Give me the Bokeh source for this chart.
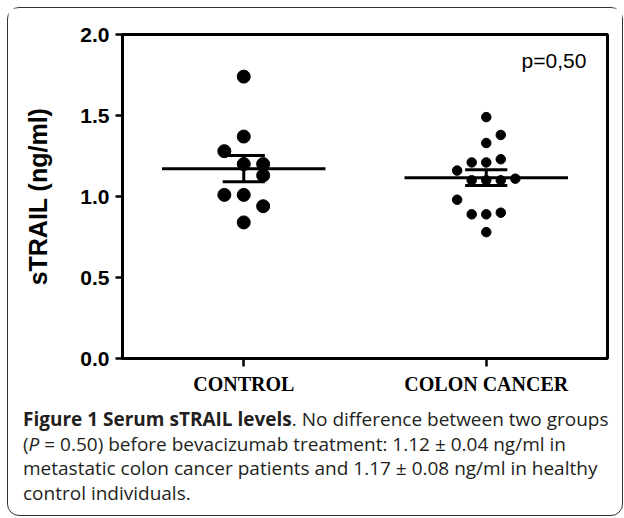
import numpy as np
from bokeh.plotting import figure
from bokeh.models import Range1d, FixedTicker, Label, Div, NumeralTickFormatter
from bokeh.layouts import column
from bokeh.embed import file_html
from bokeh.resources import INLINE

# ---- data ----
groups = ["CONTROL", "COLON CANCER"]
control_values = [1.74, 1.37, 1.28, 1.20, 1.20, 1.13, 1.01, 1.01, 0.94, 0.84]
control_cols = [0, 0, -1, 0, 1, 1, -1, 0, 1, 0]
colon_values = [1.49, 1.38, 1.33, 1.21, 1.21, 1.23, 1.16, 1.10, 1.10, 1.10,
                1.11, 0.98, 0.89, 0.89, 0.90, 0.78]
colon_cols = [0, 1, 0, -1, 0, 1, -2, -1, 0, 1, 2, -2, -1, 0, 1, 0]
y_ticks = [0.0, 0.5, 1.0, 1.5, 2.0]
p_text = "p=0,50"

# ---- figure ----
p = figure(width=614, height=390, x_range=Range1d(0, 2), y_range=Range1d(0, 2),
           output_backend="svg", toolbar_location=None,
           min_border_left=114, min_border_right=15, min_border_top=26, min_border_bottom=40)
p.grid.visible = False
p.outline_line_color = "black"
p.outline_line_width = 3
p.background_fill_color = "white"
p.border_fill_color = "white"

series = [(control_values, control_cols, 0.080, 13),
          (colon_values, colon_cols, 0.060, 9.5)]
half_mean = 0.337
half_cap = 0.087
for gi, (vals, cols, step, sz) in enumerate(series):
    center = gi + 0.5
    vals = np.array(vals)
    xs = center + np.array(cols) * step
    p.scatter(xs, vals, size=sz, color="black")
    m = vals.mean()
    sem = vals.std(ddof=1) / np.sqrt(len(vals))
    p.segment([center - half_mean], [m], [center + half_mean], [m], line_width=3, color="black")
    p.segment([center - half_cap, center - half_cap], [m - sem, m + sem],
              [center + half_cap, center + half_cap], [m - sem, m + sem], line_width=3, color="black")
    p.segment([center], [m - sem], [center], [m + sem], line_width=3, color="black")

# y axis
ya = p.yaxis[0]
ya.ticker = FixedTicker(ticks=y_ticks)
ya.formatter = NumeralTickFormatter(format="0.0")
ya.minor_tick_line_color = None
ya.major_tick_out = 7
ya.major_tick_in = 0
ya.major_tick_line_width = 2.5
ya.axis_line_width = 3
ya.major_label_text_font = "Liberation Sans"
ya.major_label_text_font_style = "bold"
ya.major_label_text_font_size = "21px"
ya.major_label_text_color = "black"
ya.major_label_standoff = 6
ya.axis_label = "sTRAIL (ng/ml)"
ya.axis_label_text_font = "Liberation Sans"
ya.axis_label_text_font_style = "bold"
ya.axis_label_text_font_size = "25px"
ya.axis_label_text_color = "black"
ya.axis_label_standoff = 25

# x axis
xa = p.xaxis[0]
xa.ticker = FixedTicker(ticks=[0.5, 1.5])
xa.major_label_overrides = {0.5: groups[0], 1.5: groups[1]}
xa.minor_tick_line_color = None
xa.major_tick_out = 8
xa.major_tick_in = 0
xa.major_tick_line_width = 2.5
xa.axis_line_width = 3
xa.major_label_text_font = "Liberation Serif"
xa.major_label_text_font_style = "bold"
xa.major_label_text_font_size = "20px"
xa.major_label_text_color = "black"
xa.major_label_standoff = 6

p.add_layout(Label(x=1.913, y=1.84, text=p_text, text_align="right", text_baseline="alphabetic",
                   text_font="Liberation Sans", text_font_size="21px", text_color="black"))

caption_html = (
    '<div style="font-family:\'Open Sans\'; font-size:19px; line-height:24.7px; color:#231f20; '
    'padding-left:15px; padding-top:9px; white-space:nowrap;">'
    '<b>Figure 1 Serum sTRAIL levels</b>. No difference between two groups<br>'
    '(<i>P</i> = 0.50) before bevacizumab treatment: 1.12 &plusmn; 0.04 ng/ml in<br>'
    'metastatic colon cancer patients and 1.17 &plusmn; 0.08 ng/ml in healthy<br>'
    'control individuals.</div>'
)
div = Div(text=caption_html, width=614, height=117, margin=0)

layout = column(p, div, styles={"border": "1px solid #333", "border-radius": "12px",
                                "background-color": "white", "margin-left": "7px",
                                "margin-top": "7px"})

open("out.html", "w").write(file_html(layout, INLINE))
